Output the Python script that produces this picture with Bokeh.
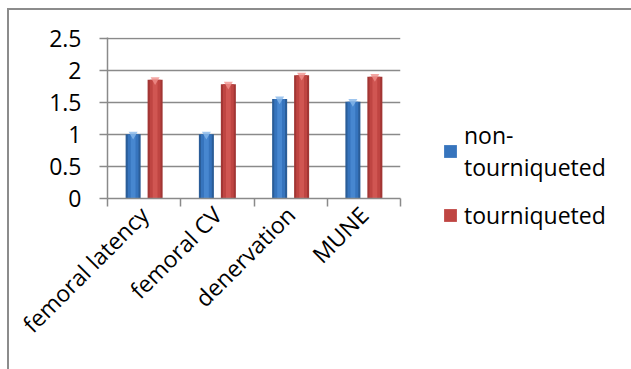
from bokeh.plotting import figure
from bokeh.models import Range1d, FixedTicker, Legend, LegendItem, ColumnDataSource
from bokeh.embed import file_html
from bokeh.resources import INLINE
import math

# --- data ---------------------------------------------------------------
categories = ["femoral latency", "femoral CV", "denervation", "MUNE"]
non_tourniqueted = [1.0, 1.0, 1.55, 1.51]
tourniqueted = [1.85, 1.78, 1.92, 1.9]
y_ticks = [0, 0.5, 1, 1.5, 2, 2.5]
y_tick_labels = ["0", "0.5", "1", "1.5", "2", "2.5"]
series_names = ["non-\ntourniqueted", "tourniqueted"]

FONT = "Open Sans"
FONT_SIZE = "23px"
GRID = "#8a8a8a"

centers = [i + 0.5 for i in range(len(categories))]
offset = 0.15
bar_w = 0.205

p = figure(frame_width=293, frame_height=161, output_backend="svg", toolbar_location=None,
           x_range=Range1d(0, len(categories)), y_range=Range1d(0, 2.51),
           min_border_left=107, min_border_right=231,
           min_border_top=37, min_border_bottom=171)
p.outline_line_color = None
p.background_fill_color = "white"
p.border_fill_color = None

# thin chart-area border (top and left edges) drawn behind the canvas
p.styles = {
    "background-color": "white",
    "background-image": "linear-gradient(#8c8c8c, #8c8c8c), linear-gradient(#8c8c8c, #8c8c8c)",
    "background-size": "2px 100%, 100% 2px",
    "background-position": "7px 8px, 7px 8px",
    "background-repeat": "no-repeat",
}

# shaded bars: dark rim, mid body, light core, plus a small cap highlight
shades = {
    "blue": ["#2a5d98", "#3674bd", "#4787d0", "#86b6ea"],
    "red": ["#a23634", "#bf4542", "#d05652", "#f0908c"],
}

def draw_series(values, sign, pal):
    xs = [c + sign * offset for c in centers]
    src = ColumnDataSource(dict(x=xs, top=values))
    p.vbar(x="x", top="top", width=bar_w, bottom=0, source=src,
           fill_color=pal[0], line_color=None)
    mid = p.vbar(x="x", top="top", width=bar_w * 0.72, bottom=0, source=src,
                 fill_color=pal[1], line_color=None)
    p.vbar(x="x", top="top", width=bar_w * 0.32, bottom=0, source=src,
           fill_color=pal[2], line_color=None)
    p.scatter(x="x", y="top", source=src, marker="inverted_triangle", size=9,
              fill_color=pal[3], line_color=None, fill_alpha=0.8)
    return mid

r_blue = draw_series(non_tourniqueted, -1, shades["blue"])
r_red = draw_series(tourniqueted, +1, shades["red"])

# y axis
p.yaxis.ticker = FixedTicker(ticks=y_ticks)
p.yaxis.major_label_overrides = {t: l for t, l in zip(y_ticks, y_tick_labels)}
p.yaxis.axis_line_color = GRID
p.yaxis.axis_line_width = 1.5
p.yaxis.major_tick_line_color = GRID
p.yaxis.major_tick_line_width = 1.5
p.yaxis.major_tick_out = 8
p.yaxis.major_tick_in = 0
p.yaxis.minor_tick_line_color = None
p.yaxis.major_label_standoff = 18
p.yaxis.major_label_text_font = FONT
p.yaxis.major_label_text_font_size = FONT_SIZE
p.yaxis.major_label_text_color = "black"

# x axis: labels at category centres, ticks at category boundaries
p.xaxis.ticker = FixedTicker(ticks=centers, minor_ticks=list(range(len(categories) + 1)))
p.xaxis.major_label_overrides = {c: n for c, n in zip(centers, categories)}
p.xaxis.major_label_orientation = math.pi / 4
p.xaxis.major_tick_line_color = None
p.xaxis.minor_tick_line_color = GRID
p.xaxis.minor_tick_line_width = 1.5
p.xaxis.minor_tick_out = 8
p.xaxis.minor_tick_in = 0
p.xaxis.axis_line_color = GRID
p.xaxis.axis_line_width = 1.5
p.xaxis.major_label_standoff = 4
p.xaxis.major_label_text_font = FONT
p.xaxis.major_label_text_font_size = FONT_SIZE
p.xaxis.major_label_text_color = "black"

p.xgrid.grid_line_color = None
p.ygrid.grid_line_color = GRID
p.ygrid.grid_line_width = 1.5

legend = Legend(items=[LegendItem(label=series_names[0], renderers=[r_blue]),
                       LegendItem(label=series_names[1], renderers=[r_red])],
                location=(42, -33))
legend.label_text_font = FONT
legend.label_text_font_size = FONT_SIZE
legend.label_text_line_height = 1.4
legend.label_text_color = "black"
legend.glyph_width = 16
legend.glyph_height = 16
legend.label_standoff = 6
legend.spacing = 16
legend.padding = 0
legend.margin = 0
legend.border_line_color = None
legend.background_fill_alpha = 0
p.add_layout(legend, "right")

open("out.html", "w").write(file_html(p, INLINE))
